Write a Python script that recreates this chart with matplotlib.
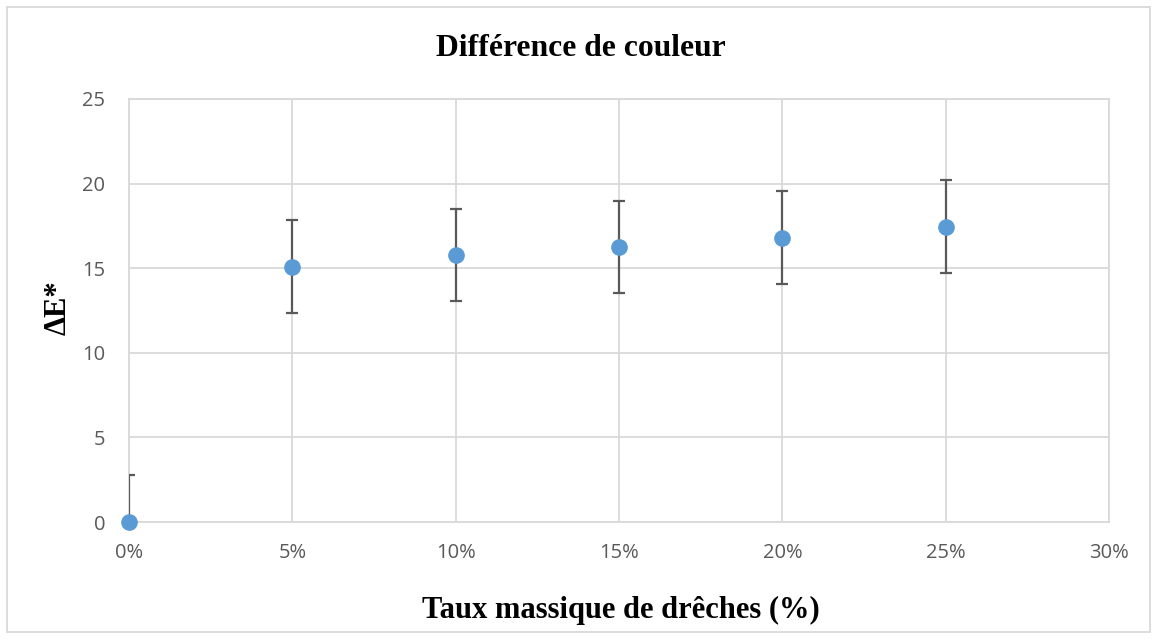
import matplotlib
matplotlib.use("Agg")
import matplotlib.pyplot as plt
from matplotlib.patches import Rectangle
from matplotlib.ticker import FuncFormatter, MultipleLocator

taux = [0, 5, 10, 15, 20, 25]
delta_e = [0.0, 15.08, 15.78, 16.25, 16.8, 17.45]
erreur = [2.75, 2.74, 2.73, 2.73, 2.74, 2.74]

fig = plt.figure(figsize=(11.59, 6.39), dpi=100)
ax = fig.add_axes([129/1159, 117/639, 980/1159, 423/639])

ax.set_xlim(0, 30)
ax.set_ylim(0, 25)
ax.xaxis.set_major_locator(MultipleLocator(5))
ax.yaxis.set_major_locator(MultipleLocator(5))
ax.xaxis.set_major_formatter(FuncFormatter(lambda v, p: f"{int(round(v))}%"))
ax.grid(True, color="#d9d9d9", linewidth=1.3)
ax.set_axisbelow(True)
for s in ax.spines.values():
    s.set_color("#d9d9d9")
    s.set_linewidth(1.3)
ax.tick_params(axis="x", length=0, labelsize=14.5, labelcolor="#595959", pad=15)
ax.tick_params(axis="y", length=0, labelsize=14.5, labelcolor="#595959", pad=17)
for lab in ax.get_xticklabels() + ax.get_yticklabels():
    lab.set_fontfamily("Open Sans")

ax.errorbar(taux, delta_e, yerr=erreur, fmt="none", ecolor="#595959",
            elinewidth=1.6, capsize=4.3, capthick=1.6, zorder=3)
ax.plot(taux, delta_e, "o", color="#5b9bd5", markersize=11, zorder=4, clip_on=False)

fig.text(581/1159, 1 - 48/639, "Différence de couleur", ha="center", va="center",
         fontsize=22.8, fontweight="bold", family="Liberation Serif")
fig.text(621/1159, 1 - 610/639, "Taux massique de drêches (%)", ha="center", va="center",
         fontsize=22, fontweight="bold", family="Liberation Serif")
fig.text(58/1159, 1 - 308/639, "ΔE*", ha="center", va="center", rotation=90,
         fontsize=22, fontweight="bold", family="Liberation Serif")

fig.patches.append(Rectangle((7/1159, 7/639), 1143/1159, 625/639, transform=fig.transFigure,
                             fill=False, edgecolor="#d9d9d9", linewidth=1.3))

fig.savefig("out.png", dpi=100, facecolor="white")
